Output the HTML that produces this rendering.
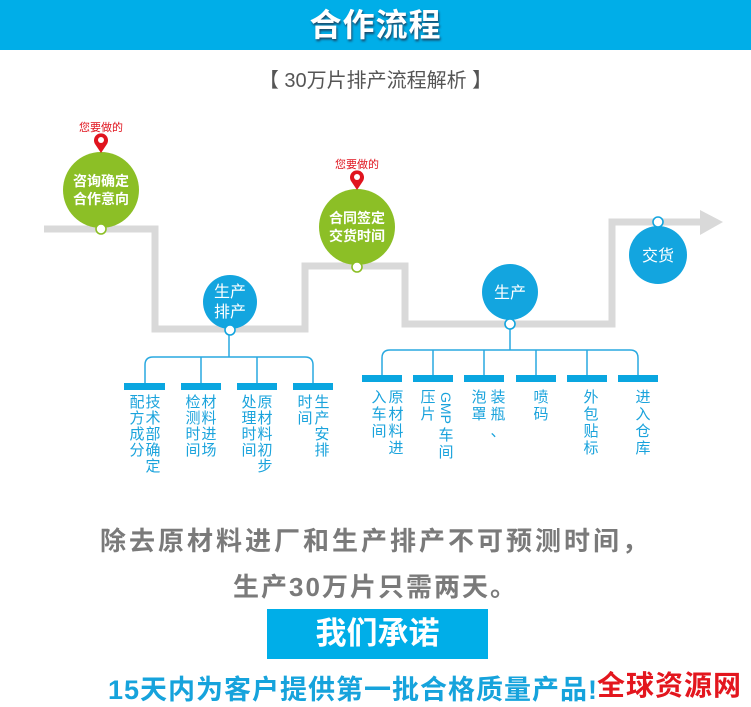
<!DOCTYPE html>
<html><head><meta charset="utf-8"><style>
html,body{margin:0;padding:0;background:#fff;}
body{width:751px;height:705px;position:relative;overflow:hidden;font-family:"Liberation Sans","Noto Sans CJK SC",sans-serif;}
.abs{position:absolute;}
.hdr{left:0;top:0;width:751px;height:50px;background:#00aee8;color:#fff;font-weight:bold;font-size:32px;text-align:center;line-height:50px;text-shadow:1px 2px 2px #1a4a6a;letter-spacing:1px;}
.sub{left:0;width:751px;top:64px;text-align:center;font-size:20px;color:#555;}
.col{position:absolute;width:16px;font-size:15px;line-height:16px;color:#1aa3dc;text-align:center;}
.l1{left:0;width:751px;text-align:center;top:521px;font-size:26px;font-weight:bold;color:#7a7a7a;letter-spacing:3px;}
.l2{left:0;width:751px;text-align:center;top:567px;font-size:26px;font-weight:bold;color:#7a7a7a;letter-spacing:2px;}
.box{left:267px;top:609px;width:221px;height:50px;background:#00aee8;color:#fff;font-size:31px;font-weight:bold;text-align:center;line-height:50px;}
.l3{left:108px;top:668px;font-size:27px;font-weight:bold;color:#16a3dc;letter-spacing:1px;white-space:nowrap;}
.wm{left:597px;top:664px;font-size:28px;font-weight:bold;color:#e3161e;white-space:nowrap;letter-spacing:1px;}
</style></head><body>
<div class="abs hdr">合作流程</div>
<div class="abs sub">【 30万片排产流程解析 】</div>

<svg class="abs" style="left:0;top:0" width="751" height="500" viewBox="0 0 751 500">
 <polyline points="44,229 155,229 155,329 305,329 305,266 405,266 405,324 612,324 612,222 702,222" fill="none" stroke="#d9d9d9" stroke-width="7"/>
 <polygon points="700,210 723,222 700,235" fill="#d9d9d9"/>
 <g fill="none" stroke="#29a9e0" stroke-width="1.5">
  <line x1="229" y1="334" x2="229" y2="357"/>
  <path d="M145,386 V365 Q145,357 153,357 H305 Q313,357 313,365 V386"/>
  <line x1="201" y1="357" x2="201" y2="386"/><line x1="257" y1="357" x2="257" y2="386"/>
  <line x1="510" y1="329" x2="510" y2="350"/>
  <path d="M382,376 V358 Q382,350 390,350 H630 Q638,350 638,358 V376"/>
  <line x1="433" y1="350" x2="433" y2="376"/><line x1="484" y1="350" x2="484" y2="376"/><line x1="536" y1="350" x2="536" y2="376"/><line x1="587" y1="350" x2="587" y2="376"/>
 </g>
 <g fill="#0aa6e0">
  <rect x="124" y="383" width="41" height="7"/><rect x="181" y="383" width="40" height="7"/><rect x="237" y="383" width="40" height="7"/><rect x="293" y="383" width="40" height="7"/>
  <rect x="362" y="375" width="40" height="7"/><rect x="413" y="375" width="40" height="7"/><rect x="464" y="375" width="40" height="7"/><rect x="516" y="375" width="40" height="7"/><rect x="567" y="375" width="40" height="7"/><rect x="618" y="375" width="40" height="7"/>
 </g>
 <circle cx="101" cy="190" r="38" fill="#8cbf26"/>
 <circle cx="357" cy="227" r="38" fill="#8cbf26"/>
 <circle cx="230" cy="302" r="27" fill="#13a5df"/>
 <circle cx="510" cy="292" r="28" fill="#13a5df"/>
 <circle cx="658" cy="255" r="29" fill="#13a5df"/>
 <g fill="#fff" stroke-width="1.6">
  <circle cx="101" cy="229" r="5" stroke="#8cbf26"/>
  <circle cx="357" cy="267" r="5" stroke="#8cbf26"/>
  <circle cx="230" cy="330" r="5" stroke="#13a5df"/>
  <circle cx="510" cy="324" r="5" stroke="#13a5df"/>
  <circle cx="658" cy="222" r="5" stroke="#13a5df"/>
 </g>
 <g fill="#e0141e">
  <path d="M101,153 L95,144 A7,7 0 1 1 107,144 Z"/>
  <path d="M357,190 L351,181 A7,7 0 1 1 363,181 Z"/>
 </g>
 <circle cx="101" cy="140" r="3" fill="#fff"/><circle cx="357" cy="177" r="3" fill="#fff"/>
 <g font-family="Liberation Sans,Noto Sans CJK SC,sans-serif" text-anchor="middle">
  <text x="101" y="131" font-size="11" fill="#e0141e">您要做的</text>
  <text x="357" y="168" font-size="11" fill="#e0141e">您要做的</text>
  <g fill="#fff" font-weight="bold" font-size="14">
   <text x="101" y="186">咨询确定</text><text x="101" y="204">合作意向</text>
   <text x="357" y="223">合同签定</text><text x="357" y="241">交货时间</text>
  </g>
  <g fill="#fff" font-size="16">
   <text x="230" y="297">生产</text><text x="230" y="317">排产</text>
   <text x="510" y="298">生产</text>
   <text x="658" y="261">交货</text>
  </g>
 </g>
</svg>

<div class="col" style="left:129px;top:395px">配<br>方<br>成<br>分</div>
<div class="col" style="left:145px;top:395px">技<br>术<br>部<br>确<br>定</div>
<div class="col" style="left:185px;top:395px">检<br>测<br>时<br>间</div>
<div class="col" style="left:201px;top:395px">材<br>料<br>进<br>场</div>
<div class="col" style="left:241px;top:395px">处<br>理<br>时<br>间</div>
<div class="col" style="left:257px;top:395px">原<br>材<br>料<br>初<br>步</div>
<div class="col" style="left:297px;top:395px">时<br>间</div>
<div class="col" style="left:314px;top:395px">生<br>产<br>安<br>排</div>
<div class="col" style="left:371px;top:389px;line-height:17px">入<br>车<br>间</div>
<div class="col" style="left:388px;top:389px;line-height:17px">原<br>材<br>料<br>进</div>
<div class="col" style="left:420px;top:389px;line-height:17px">压<br>片</div>
<div class="col" style="left:438px;top:389px;line-height:17px"><span style="display:inline-block;transform:rotate(90deg);font-size:14px;width:38px;margin-left:-11px;height:38px;line-height:38px">GMP</span><br>车<br>间</div>
<div class="col" style="left:471px;top:389px;line-height:17px">泡<br>罩</div>
<div class="col" style="left:490px;top:389px;line-height:17px">装<br>瓶<br>、</div>
<div class="col" style="left:533px;top:389px;line-height:17px">喷<br>码</div>
<div class="col" style="left:583px;top:389px;line-height:17px">外<br>包<br>贴<br>标</div>
<div class="col" style="left:635px;top:389px;line-height:17px">进<br>入<br>仓<br>库</div>

<div class="abs l1">除去原材料进厂和生产排产不可预测时间，</div>
<div class="abs l2">生产30万片只需两天。</div>
<div class="abs box">我们承诺</div>
<div class="abs l3">15天内为客户提供第一批合格质量产品!</div>
<div class="abs wm">全球资源网</div>
</body></html>
